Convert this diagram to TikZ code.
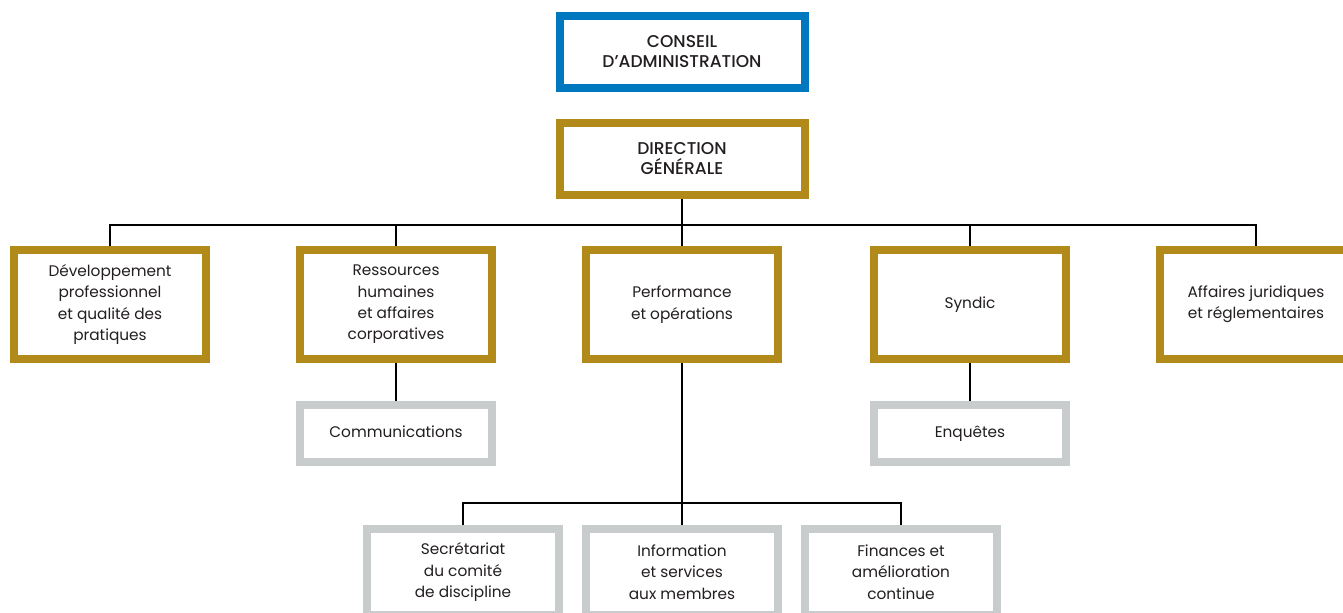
\documentclass[tikz,border=0pt]{standalone}
\usepackage{fontspec}
\setmainfont{Poppins}[BoldFont={Poppins Medium}]
\usetikzlibrary{positioning}
\definecolor{boardblue}{RGB}{0,120,191}
\definecolor{dirgold}{RGB}{177,138,26}
\definecolor{unitgray}{RGB}{200,204,205}
\definecolor{inktext}{RGB}{35,31,32}

\begin{document}
\begin{tikzpicture}
      [ x=0.75pt, y=-0.75pt,
        box/.style={draw, line width=6pt, fill=white, align=center, inner sep=0pt,
                    text=inktext, font=\fontsize{11.5}{16}\selectfont},
        board/.style={box, draw=boardblue, minimum width=183.75pt, minimum height=54pt,
                    font=\fontsize{12.8}{15}\selectfont\bfseries},
        head/.style={board, draw=dirgold},
        service/.style={box, draw=dirgold, minimum width=144pt, minimum height=81.75pt},
        unit/.style={box, draw=unitgray, minimum width=144pt, minimum height=42.75pt,
                    text height=1.55ex, text depth=0.35ex},
        team/.style={unit, minimum height=64.5pt, text height=, text depth=},
        link/.style={line width=1.8pt},
        node distance=28.5pt and 64.5pt
      ]
      \useasboundingbox (0,0) rectangle (1343,612);

      \node[board]   (ca)   at (682,52)                {CONSEIL\\D’ADMINISTRATION};
      \node[head]    (dg)   at (682,159)               {DIRECTION\\GÉNÉRALE};

      \node[service] (perf) at (682,304.5)             {Performance\\et opérations};
      \node[service] (rh)   [left=of perf]             {Ressources\\humaines\\et affaires\\corporatives};
      \node[service] (dev)  [left=of rh]               {Développement\\professionnel\\et qualité des\\pratiques};
      \node[service] (syn)  [right=66pt of perf]       {Syndic};
      \node[service] (aff)  [right=of syn]             {Affaires juridiques\\et réglementaires};

      \node[unit]    (com)  [below=of rh]              {Communications};
      \node[unit]    (enq)  [below=of syn]             {Enquêtes};

      \node[team]    (info) [below=121.5pt of perf]    {Information\\et services\\aux membres};
      \node[team]    (secr) [left=14.25pt of info]     {Secrétariat\\du comité\\de discipline};
      \node[team]    (fin)  [right=14.25pt of info]    {Finances et\\amélioration\\continue};

      \coordinate (top bus) at (682,225);
      \coordinate (low bus) at (682,503);

      \draw[link] (dg.south) -- (top bus);
      \draw[link] (dev.north) |- (top bus) -| (aff.north);
      \draw[link] (rh.north) -- (rh.north |- top bus);
      \draw[link] (perf.north) -- (perf.north |- top bus);
      \draw[link] (syn.north) -- (syn.north |- top bus);
      \draw[link] (rh) -- (com);
      \draw[link] (syn) -- (enq);
      \draw[link] (perf) -- (info);
      \draw[link] (secr.north) |- (low bus) -| (fin.north);
    \end{tikzpicture}
\end{document}
